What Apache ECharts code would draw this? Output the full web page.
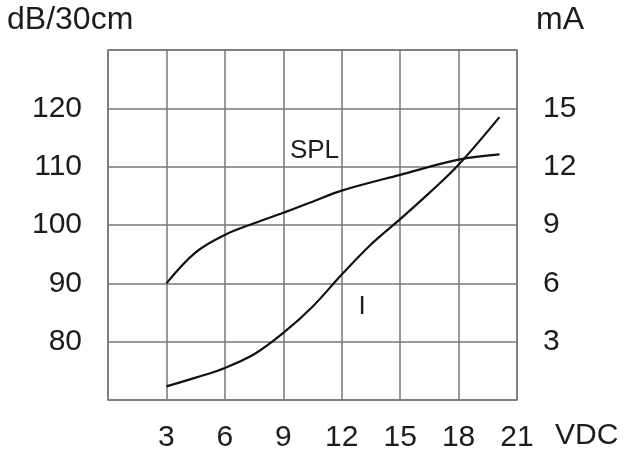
<!DOCTYPE html>
<html>
<head>
<meta charset="utf-8">
<script src="https://cdn.jsdelivr.net/npm/echarts@6/dist/echarts.min.js"></script>
<style>
  html, body { margin: 0; padding: 0; background: #fff; }
  #main { width: 626px; height: 453px; }
</style>
</head>
<body>
<div id="main"></div>
<script>
// voltage (VDC) vs sound pressure level / current
const splPoints = [[3, 90], [4.5, 95.3], [6, 98.3], [7.5, 100.3], [9, 102.1], [10.5, 104], [12, 105.9], [15, 108.6], [18, 111.2], [20.1, 112.1]];
const currentPoints = [[3, 0.7], [4.5, 1.15], [6, 1.65], [7.5, 2.35], [9, 3.45], [10.5, 4.8], [12, 6.45], [13.5, 8.0], [15, 9.3], [16.5, 10.65], [18, 12.1], [20.1, 14.55]];
const xTicks = [3, 6, 9, 12, 15, 18, 21];
const dbTicks = [80, 90, 100, 110, 120];
const maTicks = [3, 6, 9, 12, 15];

const FONT = 'Liberation Sans, Arial, sans-serif';
const GRID = '#777';
const TXT = '#1c1c1c';

const myChart = echarts.init(document.getElementById('main'), null, { renderer: 'canvas' });

// 标签用 markPoint，symbol 画成透明
const tag = (text, coord) => ({
    symbol: 'circle', symbolSize: 1,
    itemStyle: { color: 'rgba(0,0,0,0)' },
    label: { show: true, position: 'inside', formatter: text, color: TXT, fontSize: 26, fontFamily: FONT },
    data: [{ coord: coord }],
});

const option = {
    animation: false,
    grid: {
        left: 108, right: 109, top: 50, bottom: 52,
        show: true, borderColor: GRID, borderWidth: 1.5,
    },
    xAxis: {
        type: 'value', min: 0, max: 21, interval: 3,
        axisLine: { show: false }, axisTick: { show: false },
        splitLine: { lineStyle: { color: GRID, width: 1.5 } },
        axisLabel: {
            margin: 23, color: TXT, fontSize: 30, fontFamily: FONT,
            formatter: v => xTicks.includes(v) ? String(v) : '',
        },
    },
    yAxis: [{
        type: 'value', min: 70, max: 130, interval: 10, position: 'left',
        axisLine: { show: false }, axisTick: { show: false },
        splitLine: { lineStyle: { color: GRID, width: 1.5 } },
        axisLabel: {
            margin: 26, color: TXT, fontSize: 30, fontFamily: FONT,
            formatter: v => dbTicks.includes(v) ? String(v) : '',
        },
    }, {
        type: 'value', min: 0, max: 18, interval: 3, position: 'right',
        axisLine: { show: false }, axisTick: { show: false },
        splitLine: { show: false },
        axisLabel: {
            margin: 26, color: TXT, fontSize: 30, fontFamily: FONT,
            formatter: v => maTicks.includes(v) ? String(v) : '',
        },
    }],
    graphic: [
        { type: 'text', left: 7, top: 4, style: { text: 'dB/30cm', font: '32px ' + FONT, fill: TXT } },
        { type: 'text', left: 536, top: 4, style: { text: 'mA', font: '32px ' + FONT, fill: TXT } },
        { type: 'text', left: 555, top: 421, style: { text: 'VDC', font: '30px ' + FONT, fill: TXT } },
    ],
    series: [{
        name: 'SPL', type: 'line', yAxisIndex: 0, data: splPoints,
        smooth: 0.35, symbol: 'none',
        lineStyle: { color: '#111', width: 2.2 },
        markPoint: tag('SPL', [10.6, 112.7]),
    }, {
        name: 'I', type: 'line', yAxisIndex: 1, data: currentPoints,
        smooth: 0.35, symbol: 'none',
        lineStyle: { color: '#111', width: 2.2 },
        markPoint: tag('I', [13.05, 4.8]),
    }],
};

myChart.setOption(option, true);
</script>
</body>
</html>
